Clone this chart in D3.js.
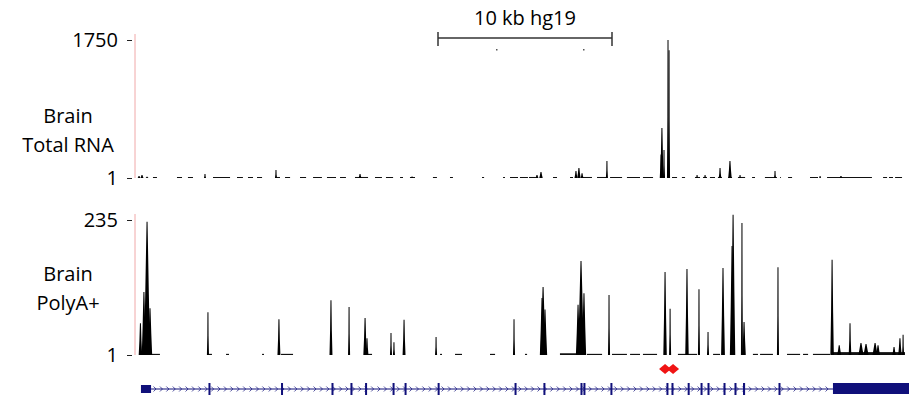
<!DOCTYPE html>
<html>
<head>
<meta charset="utf-8">
<script src="https://cdn.jsdelivr.net/npm/d3@7"></script>
<style>
  body { margin: 0; background: #fff; }
  svg text { font-family: "Open Sans", sans-serif; font-size: 20px; fill: #000; }
</style>
</head>
<body>
<svg width="911" height="401"></svg>
<script>
// window shown, in kb from its left edge
const regionKb = [0, 44.31];
const rulerKb = 10;
const rulerLabel = "10 kb hg19";

// Brain Total RNA coverage peaks: [centre kb, signal, width kb]
const totalPeaks = [
  [0.06, 25, 0.17], [0.23, 40, 0.17], [0.52, 18, 0.17], [3.85, 52, 0.12],
  [7.93, 102, 0.12], [12.76, 52, 0.17], [15.75, 20, 0.12], [22.93, 40, 0.17],
  [23.16, 77, 0.2], [25.17, 90, 0.17], [25.34, 128, 0.2], [25.52, 60, 0.17],
  [26.95, 216, 0.12], [30.06, 300, 0.15], [30.11, 635, 0.2], [30.23, 356, 0.12],
  [30.46, 1750, 0.12], [30.52, 1620, 0.1], [32.13, 40, 0.12], [32.59, 40, 0.12],
  [33.45, 128, 0.15], [34.02, 216, 0.2], [34.60, 40, 0.12], [36.61, 90, 0.12],
  [39.20, 25, 0.12], [40.40, 25, 0.2]
];
// low background coverage: [start kb, end kb, signal]
const totalLow = [
  [0.86, 1.09, 12], [2.24, 2.53, 12], [2.87, 3.16, 12], [4.31, 5.29, 12],
  [5.69, 6.03, 12], [6.32, 6.61, 12], [6.84, 7.13, 12], [7.93, 8.16, 14],
  [8.45, 8.74, 12], [9.31, 9.66, 12], [10.06, 10.57, 12], [10.86, 11.38, 12],
  [11.61, 11.95, 12], [12.47, 13.22, 14], [13.62, 14.02, 12], [14.25, 14.66, 12],
  [15.06, 15.23, 12], [15.63, 15.92, 12], [16.95, 17.18, 12], [17.93, 18.10, 12],
  [19.77, 19.89, 12], [20.98, 21.09, 12], [21.38, 21.84, 12], [21.95, 22.41, 12],
  [22.47, 22.87, 14], [23.85, 24.08, 12], [24.83, 25.00, 12], [25.57, 26.09, 14],
  [26.38, 26.95, 14], [27.13, 27.82, 12], [28.10, 28.85, 12], [29.02, 29.60, 12],
  [30.69, 30.98, 12], [31.26, 31.44, 12], [32.01, 32.30, 14], [32.47, 32.70, 14],
  [32.87, 33.16, 12], [33.33, 33.56, 14], [33.91, 34.14, 14], [34.48, 34.89, 14],
  [35.29, 35.46, 12], [36.03, 36.72, 12], [36.90, 36.95, 12], [37.36, 37.59, 12],
  [38.62, 39.08, 12], [39.60, 42.18, 12], [42.82, 43.05, 12], [43.16, 43.39, 12],
  [43.51, 43.91, 12]
];

// Brain PolyA+ coverage peaks: [centre kb, signal, width kb]
const polyaPeaks = [
  [0.14, 56, 0.2], [0.34, 110, 0.25], [0.52, 232, 0.35], [0.69, 82, 0.25],
  [4.02, 75, 0.12], [8.10, 63, 0.17], [11.09, 96, 0.17], [12.13, 84, 0.12],
  [13.05, 65, 0.2], [13.16, 30, 0.17], [14.54, 39, 0.12], [14.71, 23, 0.12],
  [15.29, 62, 0.17], [17.13, 32, 0.12], [21.61, 63, 0.12], [23.22, 100, 0.25],
  [23.28, 119, 0.3], [23.39, 80, 0.25], [25.29, 88, 0.25], [25.46, 164, 0.35],
  [25.63, 108, 0.25], [27.07, 105, 0.12], [30.29, 145, 0.2], [30.58, 81, 0.12],
  [31.55, 150, 0.2], [32.24, 115, 0.12], [32.76, 41, 0.12], [33.62, 152, 0.22],
  [34.14, 190, 0.25], [34.20, 244, 0.25], [34.71, 230, 0.12], [34.83, 58, 0.2],
  [36.78, 153, 0.12], [39.89, 166, 0.2], [40.92, 56, 0.15], [40.30, 18, 0.23],
  [41.55, 22, 0.3], [41.84, 20, 0.3], [42.36, 22, 0.3], [42.53, 18, 0.23],
  [43.45, 15, 0.2], [43.79, 30, 0.2], [43.97, 36, 0.12]
];
const polyaLow = [
  [0.52, 1.26, 3], [4.02, 4.25, 3], [5.06, 5.23, 3], [7.13, 7.24, 3],
  [8.22, 8.91, 3], [13.05, 13.45, 3], [17.36, 17.47, 3], [18.22, 18.62, 3],
  [20.23, 20.52, 3], [22.24, 22.36, 3], [24.25, 25.23, 4], [25.80, 26.67, 3],
  [27.24, 28.10, 3], [28.28, 28.85, 3], [29.02, 29.83, 3], [31.03, 31.49, 3],
  [31.61, 32.13, 3], [33.05, 33.45, 3], [35.34, 35.63, 3], [35.75, 36.49, 3],
  [37.30, 38.05, 3], [38.22, 38.51, 3], [38.79, 39.77, 3], [39.94, 44.08, 6]
];

const totalTicks = [1, 1750];
const polyaTicks = [1, 235];

// gene model (kb)
const exons = [
  [4.05, 4.11], [8.22, 8.33], [11.12, 11.18], [12.21, 12.27], [13.05, 13.16],
  [14.63, 14.68], [15.32, 15.37], [17.22, 17.26], [21.64, 21.70], [23.30, 23.36],
  [25.43, 25.49], [25.60, 25.66], [27.15, 27.21], [30.37, 30.43], [30.66, 30.72],
  [31.59, 31.62], [32.33, 32.39], [32.73, 32.79], [33.65, 33.71], [34.28, 34.34],
  [34.77, 34.89], [36.81, 36.87]
];
const utr5 = [0.17, 0.75];
const utr3 = [39.94, 44.31];
const probeSites = [30.29, 30.75];

const svg = d3.select("svg");
const x = d3.scaleLinear().domain(regionKb).range([138, 909]);

// ruler
const rulerX = 438;
const ruler = svg.append("g").attr("stroke", "#333").attr("stroke-width", 1.5);
const rulerW = x(rulerKb) - x(0);
ruler.append("line").attr("x1", rulerX).attr("x2", rulerX + rulerW).attr("y1", 38).attr("y2", 38);
[rulerX, rulerX + rulerW].forEach(p =>
  ruler.append("line").attr("x1", p).attr("x2", p).attr("y1", 32).attr("y2", 46));
svg.append("text").attr("x", rulerX + rulerW / 2).attr("y", 25)
  .attr("text-anchor", "middle").text(rulerLabel);
[rulerX + rulerW / 3, rulerX + rulerW / 3 * 2.5].forEach(p =>
  svg.append("rect").attr("x", p).attr("y", 49).attr("width", 1.5).attr("height", 1.5).attr("fill", "#555"));

// spike with a broad foot and a narrow tip
function peakPath(d, y) {
  const cx = x(d[0]), hw = Math.max(1, (x(d[2]) - x(0)) / 2), b = y.range()[0], t = y(d[1]);
  const mid = y(1 + (d[1] - 1) * 0.45);
  return `M${cx - hw},${b}L${cx - hw * 0.6},${mid}L${cx - 0.5},${t}L${cx + 0.5},${t}` +
         `L${cx + hw * 0.6},${mid}L${cx + hw},${b}Z`;
}

function drawTrack(peaks, low, ticks, yRange, labels, labelY) {
  const y = d3.scaleLinear().domain(ticks).range(yRange);
  const g = svg.append("g");

  // thin axis line beside the track
  g.append("line").attr("x1", 135).attr("x2", 135)
    .attr("y1", yRange[1] - 6).attr("y2", yRange[0])
    .attr("stroke", "#f0a8a8").attr("stroke-width", 1);

  const axis = g.append("g").attr("transform", "translate(132,0)")
    .call(d3.axisLeft(y).tickValues(ticks).tickSize(5).tickPadding(9).tickFormat(d3.format("d")));
  axis.select(".domain").remove();
  axis.selectAll("line").attr("stroke", "#222");
  axis.selectAll("text").attr("font-size", null).attr("font-family", null).attr("fill", "#000");

  g.selectAll(".low").data(low).join("rect")
    .attr("x", d => x(d[0]))
    .attr("width", d => x(d[1]) - x(d[0]))
    .attr("y", d => Math.min(y(d[2]), yRange[0] - 1))
    .attr("height", d => Math.max(1, yRange[0] - y(d[2])))
    .attr("fill", "#111");

  g.selectAll(".peak").data(peaks).join("path")
    .attr("d", d => peakPath(d, y))
    .attr("fill", "#000");

  labels.forEach((t, i) =>
    svg.append("text").attr("x", 68).attr("y", labelY + i * 29)
      .attr("text-anchor", "middle").text(t));
}

drawTrack(totalPeaks, totalLow, totalTicks, [178, 40], ["Brain", "Total RNA"], 123);
drawTrack(polyaPeaks, polyaLow, polyaTicks, [355, 220], ["Brain", "PolyA+"], 281);

// gene model
const navy = "#10107a";
const gy = 389;
const gene = svg.append("g");
gene.append("line").attr("x1", x(utr5[1])).attr("x2", x(utr3[0]))
  .attr("y1", gy).attr("y2", gy).attr("stroke", navy).attr("stroke-width", 1);

const chev = d3.range(x(utr5[1]) + 4, x(utr3[0]) - 2, 6.4);
gene.selectAll(".chev").data(chev).join("path")
  .attr("d", p => `M${p - 1.5},${gy - 2.5}L${p + 1},${gy}L${p - 1.5},${gy + 2.5}`)
  .attr("fill", "none").attr("stroke", navy).attr("stroke-width", 0.9).attr("opacity", 0.8);

gene.selectAll(".exon").data(exons).join("rect")
  .attr("x", d => x(d[0]))
  .attr("width", d => Math.max(2, x(d[1]) - x(d[0])))
  .attr("y", gy - 6).attr("height", 12)
  .attr("fill", navy);

gene.append("rect").attr("x", x(utr5[0])).attr("width", x(utr5[1]) - x(utr5[0]))
  .attr("y", gy - 4).attr("height", 8).attr("fill", navy);
gene.append("rect").attr("x", x(utr3[0])).attr("width", x(utr3[1]) - x(utr3[0]))
  .attr("y", gy - 6).attr("height", 11).attr("fill", navy);

// probe sites
svg.selectAll(".probe").data(probeSites).join("path")
  .attr("d", k => { const c = x(k); return `M${c - 6},369L${c},364L${c + 6},369L${c},374Z`; })
  .attr("fill", "#f01414");
</script>
</body>
</html>
